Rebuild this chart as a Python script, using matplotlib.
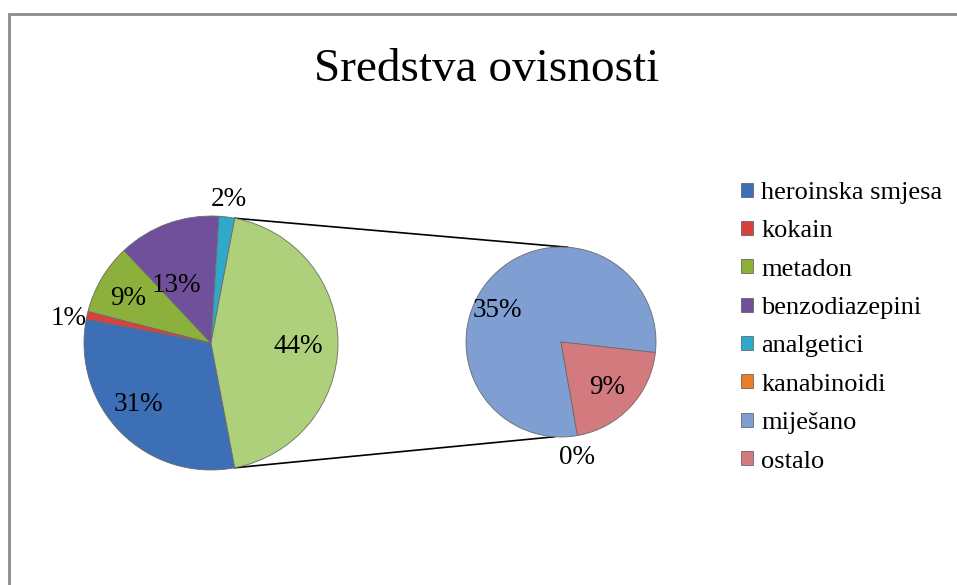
import matplotlib
matplotlib.use("Agg")
import matplotlib.pyplot as plt
from matplotlib.patches import Rectangle, Patch
import numpy as np

plt.rcParams['font.family'] = ['Liberation Serif', 'DejaVu Serif']

# ---- data ----
title = "Sredstva ovisnosti"
main_labels = ["heroinska smjesa", "kokain", "metadon", "benzodiazepini", "analgetici"]
main_values = [31, 1, 9, 13, 2]
sub_labels = ["kanabinoidi", "miješano", "ostalo"]
sub_values = [0, 35, 9]
legend_order = ["heroinska smjesa", "kokain", "metadon", "benzodiazepini",
                "analgetici", "kanabinoidi", "miješano", "ostalo"]

# ---- style ----
colors = {
    "heroinska smjesa": "#3C6FB5",
    "kokain": "#D9413E",
    "metadon": "#8CB03C",
    "benzodiazepini": "#70509B",
    "analgetici": "#2FA8C9",
    "kanabinoidi": "#E87E2A",
    "miješano": "#7F9FD3",
    "ostalo": "#D27A7E",
}
other_color = "#AFD07A"

W, H = 957, 585
fig = plt.figure(figsize=(W / 100, H / 100), dpi=100)
ax = fig.add_axes([0, 0, 1, 1])

# chart border (right/bottom edges lie outside the image)
fig.patches.append(Rectangle((9 / W, -0.1), 1.2, 1 - 14 / H + 0.1,
                             transform=fig.transFigure, fill=False,
                             edgecolor='#8C8C8C', linewidth=2.0))

fig.text(487 / W, 1 - 70 / H, title, ha='center', va='center', fontsize=34)

main_c = (211, H - 343)
main_r = 127
sub_c = (561, H - 342)
sub_r = 95

other_total = sum(sub_values)
vals1 = main_values + [other_total]
cols1 = [colors[l] for l in main_labels] + [other_color]
tot1 = sum(vals1)
start1 = -other_total / tot1 * 180.0

wedges1, _ = ax.pie(vals1, colors=cols1, startangle=start1, counterclock=False,
                    center=main_c, radius=main_r, frame=True,
                    wedgeprops=dict(edgecolor='#6b6b6b', linewidth=0.6))

start2 = -80.0
wedges2, _ = ax.pie(sub_values, colors=[colors[l] for l in sub_labels],
                    startangle=start2, counterclock=False,
                    center=sub_c, radius=sub_r, frame=True,
                    wedgeprops=dict(edgecolor='#6b6b6b', linewidth=0.6))
ax.set_xlim(0, W)
ax.set_ylim(0, H)
ax.set_aspect('equal')
ax.axis('off')

fs = 19.5
# labels for main pie
dist1 = [0.75, 1.14, 0.74, 0.53, 1.14, 0.69]
nudge1 = [-5, 3, 2, 11, 0, -2]
for w, v, d, n in zip(wedges1, vals1, dist1, nudge1):
    ang = np.deg2rad((w.theta1 + w.theta2) / 2 + n)
    x = main_c[0] + d * main_r * np.cos(ang)
    y = main_c[1] + d * main_r * np.sin(ang)
    ax.text(x, y, f"{round(100 * v / tot1)}%", ha='center', va='center', fontsize=fs)

dist2 = [1.23, 0.75, 0.68]
nudge2 = [-2, 17, -1]
for w, v, d, n in zip(wedges2, sub_values, dist2, nudge2):
    ang = np.deg2rad((w.theta1 + w.theta2) / 2 + n)
    x = sub_c[0] + d * sub_r * np.cos(ang)
    y = sub_c[1] + d * sub_r * np.sin(ang)
    ax.text(x, y, f"{round(100 * v / tot1)}%", ha='center', va='center', fontsize=fs)

# connector lines
a_top = np.deg2rad(-start1)
a_bot = np.deg2rad(start1)
p1 = (main_c[0] + main_r * np.cos(a_top), main_c[1] + main_r * np.sin(a_top))
p2 = (main_c[0] + main_r * np.cos(a_bot), main_c[1] + main_r * np.sin(a_bot))
q1 = (sub_c[0] + sub_r * np.cos(np.deg2rad(86)), sub_c[1] + sub_r * np.sin(np.deg2rad(86)))
q2 = (sub_c[0] + sub_r * np.cos(np.deg2rad(-94)), sub_c[1] + sub_r * np.sin(np.deg2rad(-94)))
ax.plot([p1[0], q1[0]], [p1[1], q1[1]], color='black', linewidth=1.2, zorder=0)
ax.plot([p2[0], q2[0]], [p2[1], q2[1]], color='black', linewidth=1.2, zorder=0)

handles = [Patch(facecolor=colors[l], edgecolor='#555555', linewidth=0.5) for l in legend_order]
fig.legend(handles, legend_order, loc='upper left',
           bbox_to_anchor=(741 / W, 1 - 182 / H), frameon=False,
           fontsize=19, handlelength=0.45, handleheight=0.45, handletextpad=0.32,
           labelspacing=0.62, borderpad=0, borderaxespad=0)

fig.savefig("out.png", dpi=100)
